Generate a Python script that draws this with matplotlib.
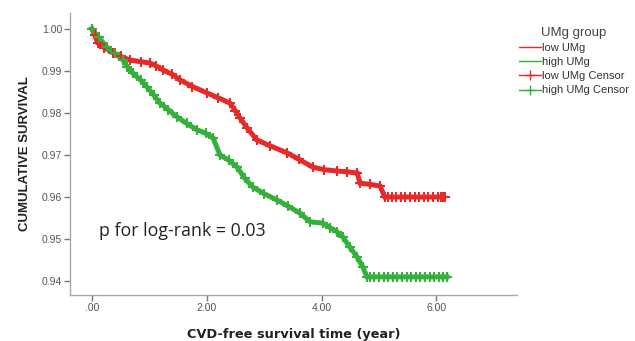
import matplotlib
matplotlib.use('Agg')
import matplotlib.pyplot as plt
from matplotlib.lines import Line2D
import numpy as np

# survival curves (time in years, cumulative survival)
low_t = [0.0, 0.05, 0.10, 0.22, 0.37, 0.50, 0.66, 0.85, 1.01, 1.12, 1.24, 1.40,
         1.53, 1.75, 2.00, 2.20, 2.40, 2.50, 2.58, 2.70, 2.87, 3.10, 3.40, 3.60,
         3.85, 4.05, 4.27, 4.45, 4.62, 4.67, 4.85, 5.02, 5.10, 6.12]
low_s = [1.0, 0.9985, 0.9967, 0.9955, 0.9943, 0.9935, 0.9926, 0.9922, 0.9919,
         0.9912, 0.9902, 0.9892, 0.9879, 0.9863, 0.9848, 0.9836, 0.9824, 0.9805,
         0.9788, 0.9765, 0.9736, 0.9722, 0.9705, 0.9690, 0.9671, 0.9665, 0.9662,
         0.9660, 0.9657, 0.9633, 0.9630, 0.9626, 0.9600, 0.9600]
high_t = [0.0, 0.12, 0.26, 0.40, 0.54, 0.62, 0.71, 0.85, 0.96, 1.08, 1.18, 1.33,
          1.48, 1.65, 1.83, 1.98, 2.11, 2.23, 2.38, 2.53, 2.66, 2.80, 3.00, 3.22,
          3.42, 3.62, 3.80, 4.02, 4.15, 4.27, 4.37, 4.49, 4.62, 4.72, 4.79, 6.18]
high_s = [1.0, 0.9980, 0.9957, 0.9942, 0.9926, 0.9910, 0.9895, 0.9878, 0.9862,
          0.9842, 0.9824, 0.9808, 0.9791, 0.9775, 0.9760, 0.9752, 0.9741, 0.9700,
          0.9688, 0.9671, 0.9645, 0.9624, 0.9608, 0.9593, 0.9578, 0.9562, 0.9541,
          0.9538, 0.9527, 0.9517, 0.9505, 0.9481, 0.9457, 0.9433, 0.9410, 0.9410]

# censor times in the flat tails
low_censor = [5.15, 5.22, 5.30, 5.38, 5.46, 5.54, 5.62, 5.70, 5.78, 5.86,
              5.94, 6.02, 6.08, 6.14]
high_censor = [4.85, 4.92, 5.00, 5.08, 5.16, 5.24, 5.32, 5.40, 5.48, 5.56,
               5.64, 5.72, 5.80, 5.88, 5.96, 6.04, 6.11, 6.18]

xticks = [0, 2, 4, 6]
xticklabels = ['.00', '2.00', '4.00', '6.00']
yticks = [0.94, 0.95, 0.96, 0.97, 0.98, 0.99, 1.00]
yticklabels = ['0.94', '0.95', '0.96', '0.97', '0.98', '0.99', '1.00']

red = '#e52a2a'
green = '#35b03a'
axis_gray = '#a9a9a9'

fig = plt.figure(figsize=(6.35, 3.41), dpi=100)
ax = fig.add_axes([0.110, 0.135, 0.704, 0.827])

ax.plot(low_t, low_s, color=red, lw=3.6, solid_joinstyle='miter')
ax.plot(high_t, high_s, color=green, lw=3.6, solid_joinstyle='miter')
ax.plot(low_t, low_s, '+', color=red, ms=6.5, mew=1.5)
ax.plot(high_t, high_s, '+', color=green, ms=6.5, mew=1.5)
ax.plot(low_censor, [low_s[-1]] * len(low_censor), '+', color=red, ms=7, mew=1.5)
ax.plot(high_censor, [high_s[-1]] * len(high_censor), '+', color=green, ms=7, mew=1.5)

ax.set_xlim(-0.383, 7.40)
ax.set_ylim(0.9367, 1.0038)
ax.set_xticks(xticks)
ax.set_xticklabels(xticklabels)
ax.set_yticks(yticks)
ax.set_yticklabels(yticklabels)

for side in ['top', 'right']:
    ax.spines[side].set_visible(False)
for side in ['left', 'bottom']:
    ax.spines[side].set_color(axis_gray)
    ax.spines[side].set_linewidth(1.0)
ax.tick_params(axis='both', direction='out', length=4, width=1.0,
               color='#777777', labelcolor='#555555', labelsize=7.5, pad=1.5,
               labelfontfamily='Liberation Sans')

ax.set_ylabel('CUMULATIVE SURVIVAL', fontsize=9.5, fontweight='bold',
              family='Liberation Sans', color='#222222', labelpad=8)
ax.set_xlabel('CVD-free survival time (year)', fontsize=9.3, fontweight='bold',
              family='DejaVu Sans', color='#222222', labelpad=11)

ax.text(0.12, 0.9519, 'p for log-rank = 0.03', fontsize=12.8, family='Open Sans',
        color='#222222', va='center')

handles = [
    Line2D([], [], color=red, lw=1),
    Line2D([], [], color=green, lw=1),
    Line2D([], [], color=red, lw=1, marker='+', ms=7),
    Line2D([], [], color=green, lw=1, marker='+', ms=7),
]
labels = ['low UMg', 'high UMg', 'low UMg Censor', 'high UMg Censor']
leg = fig.legend(handles, labels, title='UMg group', loc='upper left',
                 bbox_to_anchor=(0.805, 0.945), frameon=False,
                 prop={'family': 'Liberation Sans', 'size': 8},
                 title_fontproperties={'family': 'Liberation Sans', 'size': 9.5},
                 handlelength=2.0, handletextpad=0.1, labelspacing=0.38,
                 borderpad=0.2)
leg.get_title().set_color('#444444')
for t in leg.get_texts():
    t.set_color('#333333')

plt.savefig('out.png', dpi=100)
